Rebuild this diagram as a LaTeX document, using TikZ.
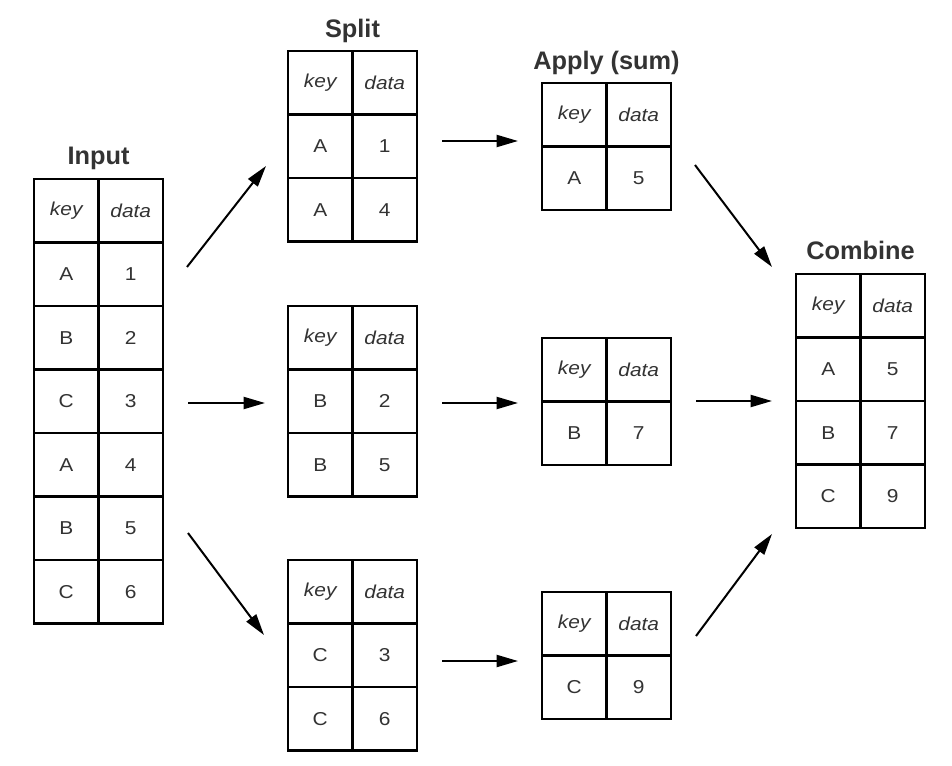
\documentclass[tikz,border=0pt]{standalone}
\usepackage{fontspec}
\setmainfont{Liberation Sans}
\newfontfamily\cellfont[FakeStretch=1.12]{Liberation Sans}
\usetikzlibrary{arrows.meta}
\definecolor{txt}{HTML}{333333}
\tikzset{
  cell/.style={draw=black, line width=2pt, minimum width=48.375pt, minimum height=47.625pt,
    inner sep=0pt, outer sep=0pt, anchor=north west, text=txt,
    font=\cellfont\fontsize{14}{16}\selectfont},
  ttl/.style={anchor=base, text=txt, font=\bfseries\fontsize{19}{22}\selectfont},
  arr/.style={line width=1.5pt, -{Triangle[length=16pt,width=9pt]}}
}
\newcommand{\datatable}[4]{% name, left, top, rows
  \node[cell] (#1-hk) at (#2,#3) {\itshape key};
  \node[cell] (#1-hd) at (#2+64.5,#3) {\itshape data};
  \foreach \k/\v [count=\i] in {#4}{
    \node[cell] (#1-k\i) at (#2,#3+63.5*\i) {\k};
    \node[cell] (#1-d\i) at (#2+64.5,#3+63.5*\i) {\v};
  }
}
\begin{document}
\begin{tikzpicture}[x=0.75pt,y=-0.75pt]
  \fill[white] (0,0) rectangle (952,766);
  \useasboundingbox (0,0) rectangle (952,766);
  % titles
  \node[ttl] (tin) at (98.5,165) {Input};
  \node[ttl] (tsplit) at (352.5,38) {Split};
  \node[ttl] (tapply) at (606.5,70) {Apply (sum)};
  \node[ttl] (tcomb) at (860.5,260) {Combine};
  % tables
  \datatable{in}{34}{179}{A/1,B/2,C/3,A/4,B/5,C/6}
  \datatable{sa}{288}{51}{A/1,A/4}
  \datatable{sb}{288}{306}{B/2,B/5}
  \datatable{sc}{288}{560}{C/3,C/6}
  \datatable{pa}{542}{83}{A/5}
  \datatable{pb}{542}{338}{B/7}
  \datatable{pc}{542}{592}{C/9}
  \datatable{co}{796}{274}{A/5,B/7,C/9}
  % arrow end points
  \coordinate (a1s) at (187,267); \coordinate (a1e) at (266,166);
  \coordinate (a2s) at (188,403); \coordinate (a2e) at (265,403);
  \coordinate (a3s) at (188,533); \coordinate (a3e) at (264,635);
  \coordinate (b1s) at (442,141); \coordinate (b1e) at (518,141);
  \coordinate (b2s) at (442,403); \coordinate (b2e) at (518,403);
  \coordinate (b3s) at (442,661); \coordinate (b3e) at (518,661);
  \coordinate (c1s) at (695,165); \coordinate (c1e) at (772,267);
  \coordinate (c2s) at (696,401); \coordinate (c2e) at (772,401);
  \coordinate (c3s) at (696,636); \coordinate (c3e) at (772,534);
  \foreach \p in {a1,a2,a3,b1,b2,b3,c1,c2,c3}{
    \draw[arr] (\p s) -- (\p e);
  }
\end{tikzpicture}
\end{document}
